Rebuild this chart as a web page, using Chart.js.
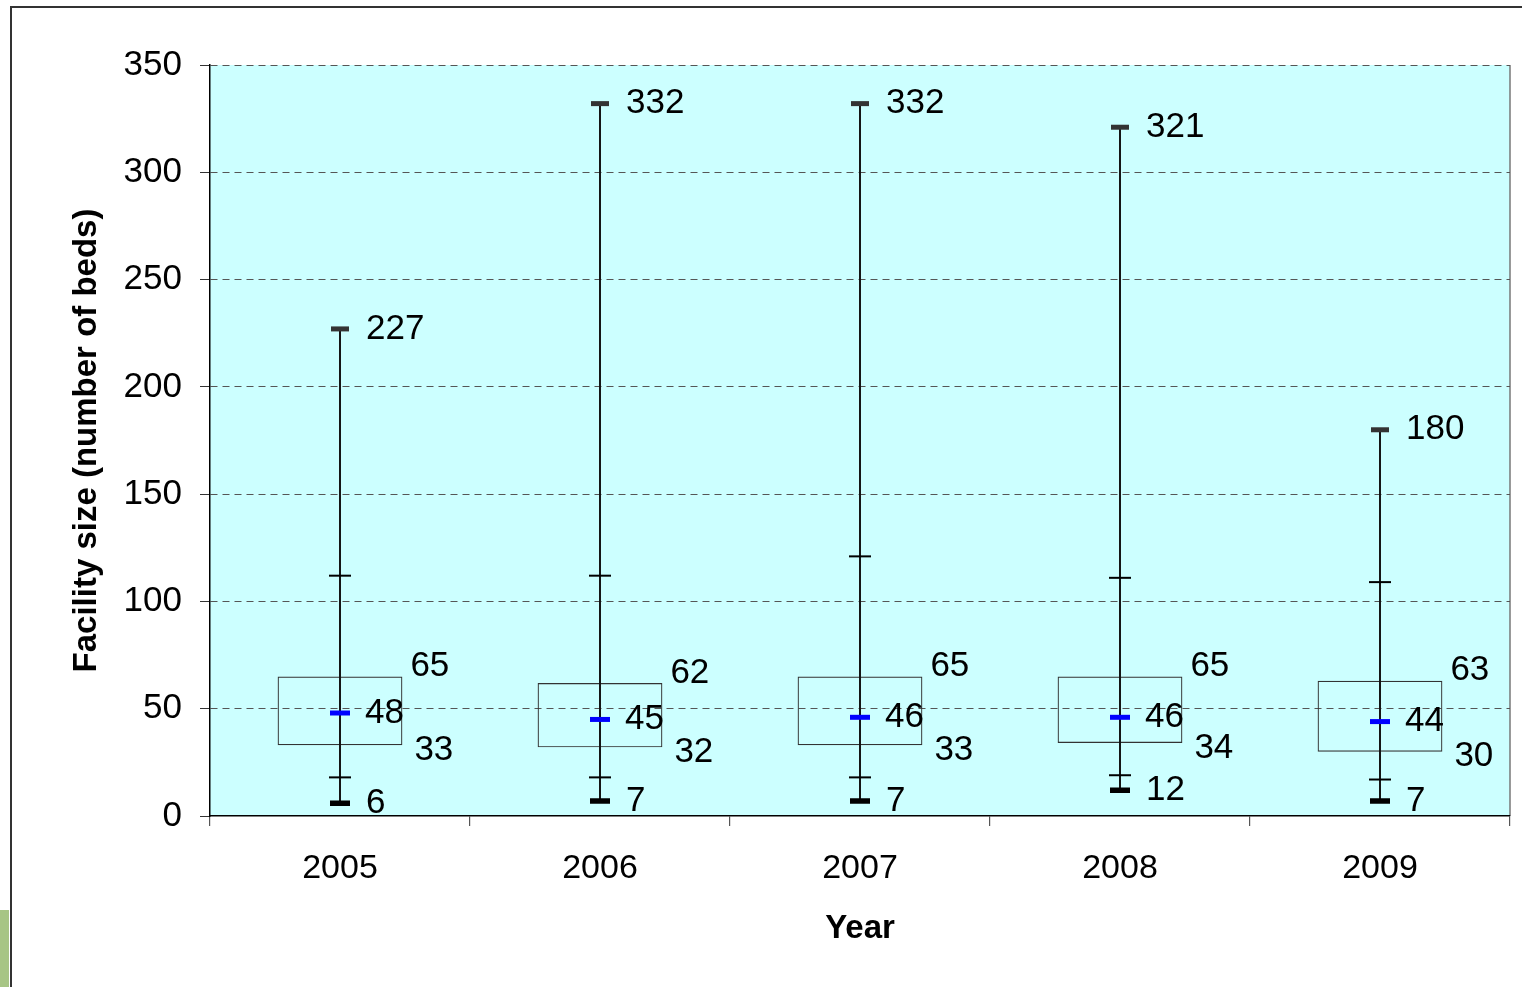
<!DOCTYPE html>
<html>
<head>
<meta charset="utf-8">
<script src="https://cdn.jsdelivr.net/npm/chart.js@4.4.1/dist/chart.umd.min.js"></script>
<style>
  body { margin: 0; background: #fff; }
  #wrap { position: relative; width: 1522px; height: 987px; overflow: hidden; }
  #frame { position: absolute; left: 10px; top: 6px; width: 1530px; height: 1000px;
           border-left: 2px solid #333; border-top: 2px solid #333; }
  #leaf { position: absolute; left: 0; top: 910px; width: 9px; height: 77px; background: #a7c585; }
  canvas { position: absolute; left: 0; top: 0; }
</style>
</head>
<body>
<div id="wrap">
  <div id="leaf"></div>
  <div id="frame"></div>
  <canvas id="chart" width="1522" height="987"></canvas>
</div>
<script>
// values
const years = ["2005", "2006", "2007", "2008", "2009"];
const maxBeds = [227, 332, 332, 321, 180];
const upperWhisker = [112, 112, 121, 111, 109];
const q3 = [65, 62, 65, 65, 63];
const medianBeds = [48, 45, 46, 46, 44];
const q1 = [33, 32, 33, 34, 30];
const lowerWhisker = [18, 18, 18, 19, 17];
const minBeds = [6, 7, 7, 12, 7];
const yTicks = [0, 50, 100, 150, 200, 250, 300, 350];

const fontFam = "'Liberation Sans', Arial, sans-serif";

// cyan plot background + grey right edge
const plotBg = {
  id: "plotBg",
  beforeDraw(chart) {
    const { ctx, chartArea: a } = chart;
    ctx.save();
    ctx.fillStyle = "#ccffff";
    ctx.fillRect(a.left, a.top, a.right - a.left, a.bottom - a.top);
    ctx.strokeStyle = "#777";
    ctx.lineWidth = 1.5;
    ctx.beginPath();
    ctx.moveTo(a.right, a.top);
    ctx.lineTo(a.right, a.bottom);
    ctx.stroke();
    ctx.restore();
  }
};

// numbers next to each box
const boxLabels = {
  id: "boxLabels",
  afterDatasetsDraw(chart) {
    const { ctx } = chart;
    const y = chart.scales.y;
    const boxMeta = chart.getDatasetMeta(0);
    ctx.save();
    ctx.font = "35px " + fontFam;
    ctx.fillStyle = "#000";
    ctx.textBaseline = "middle";
    ctx.textAlign = "left";
    boxMeta.data.forEach((bar, i) => {
      const cx = bar.x;
      const right = bar.x + bar.width / 2;
      ctx.fillText(maxBeds[i], cx + 26, y.getPixelForValue(maxBeds[i]));
      ctx.fillText(medianBeds[i], cx + 25, y.getPixelForValue(medianBeds[i]));
      ctx.fillText(minBeds[i], cx + 26, y.getPixelForValue(minBeds[i]));
      ctx.fillText(q3[i], right + 8, y.getPixelForValue(q3[i]) - 10);
      ctx.fillText(q1[i], right + 12, y.getPixelForValue(q1[i]) + 5);
    });
    ctx.restore();
  }
};

function capSet(data, color, radius, width, order) {
  return {
    type: "line",
    data: data,
    showLine: false,
    pointStyle: "line",
    pointRadius: radius,
    pointBorderColor: color,
    pointBorderWidth: width,
    pointBackgroundColor: color,
    order: order
  };
}

new Chart(document.getElementById("chart"), {
  type: "bar",
  data: {
    labels: years,
    datasets: [
      {
        // interquartile box
        data: years.map((_, i) => [q1[i], q3[i]]),
        backgroundColor: "rgba(0,0,0,0)",
        borderColor: "#333",
        borderWidth: 1.2,
        borderSkipped: false,
        categoryPercentage: 0.5,
        barPercentage: 0.96,
        grouped: false,
        order: 6
      },
      {
        // whisker line min..max
        data: years.map((_, i) => [minBeds[i], maxBeds[i]]),
        backgroundColor: "#111",
        borderWidth: 0,
        barThickness: 1.3,
        grouped: false,
        order: 5
      },
      capSet(maxBeds, "#333", 9, 5, 1),
      capSet(upperWhisker, "#000", 11, 2, 2),
      capSet(lowerWhisker, "#000", 11, 2, 2),
      capSet(minBeds, "#000", 10, 5.5, 1),
      capSet(medianBeds, "#0000ff", 10, 5, 0)
    ]
  },
  options: {
    responsive: false,
    animation: false,
    layout: { autoPadding: false, padding: { left: 0, right: 12, top: 65, bottom: 0 } },
    plugins: {
      legend: { display: false },
      tooltip: { enabled: false }
    },
    scales: {
      x: {
        offset: true,
        afterFit: (s) => { s.height = 171; },
        grid: {
          offset: true,
          drawOnChartArea: false,
          drawTicks: true,
          tickLength: 10,
          color: "#555",
          lineWidth: 1.2
        },
        border: { display: true, color: "#000", width: 1.5 },
        ticks: {
          color: "#000",
          font: { family: fontFam, size: 34 },
          padding: 22
        },
        title: {
          display: true,
          text: "Year",
          color: "#000",
          font: { family: fontFam, size: 33, weight: "bold" },
          padding: { top: 0, bottom: 38 }
        }
      },
      y: {
        min: 0,
        max: 350,
        afterFit: (s) => { s.width = 210; },
        afterBuildTicks: (s) => { s.ticks = yTicks.map((v) => ({ value: v })); },
        grid: {
          color: (c) => (c.tick && c.tick.value === 0 ? "rgba(0,0,0,0)" : "#555"),
          lineWidth: 1,
          tickLength: 10,
          tickColor: "#333",
          tickBorderDash: []
        },
        border: { display: true, color: "#000", width: 1.5, dash: [7, 5] },
        ticks: {
          color: "#000",
          font: { family: fontFam, size: 35 },
          padding: 18
        },
        title: {
          display: true,
          text: "Facility size (number of beds)",
          color: "#000",
          font: { family: fontFam, size: 33, weight: "bold" },
          padding: { top: 67, bottom: 0 }
        }
      }
    }
  },
  plugins: [plotBg, boxLabels]
});
</script>
</body>
</html>
